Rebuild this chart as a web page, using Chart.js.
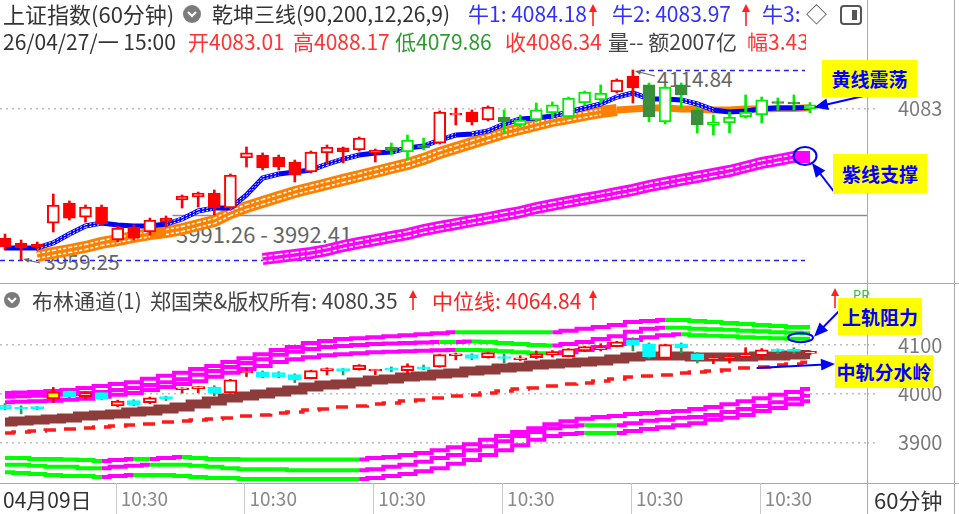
<!DOCTYPE html>
<html>
<head>
<meta charset="utf-8">
<title>上证指数(60分钟)</title>
<script src="https://cdn.jsdelivr.net/npm/chart.js@4.4.1/dist/chart.umd.min.js"></script>
<style>
  html, body { margin: 0; padding: 0; background: #fff; }
  #wrap { position: relative; width: 959px; height: 514px; overflow: hidden; background: #fff;
          font-family: "Noto Sans CJK SC", "Noto Sans", sans-serif; }
  canvas { position: absolute; left: 0; z-index: 1; }
  #cMain { top: 0; }
  #cBoll { top: 284px; }
  .t { position: absolute; white-space: nowrap; line-height: 1; transform: translateY(-50%); font-size: 21px; z-index: 2; }
  .under { z-index: 0; }
  .tag { position: absolute; z-index: 3; background: #ffff00; color: #0000ff; font-weight: bold; font-size: 19px;
         display: flex; align-items: center; justify-content: center; }
  #icons { position: absolute; left: 0; top: 0; z-index: 3; }
</style>
</head>
<body>
<div id="wrap">
  <canvas id="cMain" width="959" height="284"></canvas>
  <canvas id="cBoll" width="959" height="230"></canvas>
  <svg id="icons" width="959" height="514">
    <circle cx="192" cy="14" r="9" fill="#7b7b7b"/>
    <polyline points="188,12 192,16 196,12" fill="none" stroke="#fff" stroke-width="2"/>
    <circle cx="12" cy="300" r="8" fill="#7b7b7b"/>
    <polyline points="8,298 12,302 16,298" fill="none" stroke="#fff" stroke-width="2"/>
    <rect x="841" y="6" width="20" height="18" rx="3" fill="none" stroke="#555" stroke-width="2"/>
    <rect x="852" y="10" width="5" height="10" fill="#555"/>
  </svg>
</div>
<script>
// ---------- 数据 ----------
const firstDate = '04月09日';
const xTickIndex = [7, 15, 23, 31, 39, 47];
const xTickText = ['10:30', '10:30', '10:30', '10:30', '10:30', '10:30'];
const yTicksMain = [4083];
const yTicksBoll = [3900, 4000, 4100];

// K线 (60分钟)
const openP = [3977.2,3973.2,3972.3,3989.5,4005.9,3994.4,4002.6,3975.6,3986.3,3982.2,3993.6,4008.4,4010.8,4014.1,4001.8,4042.8,4045.2,4043.6,4039.5,4031.3,4046.9,4051.0,4049.3,4046.9,4051.8,4047.7,4053.4,4055.0,4078.0,4080.4,4073.9,4076.3,4069.8,4073.9,4079.6,4076.3,4087.8,4090.3,4096.8,4109.9,4102.6,4072.3,4102.6,4082.1,4069.8,4071.4,4076.3,4078.0,4088.6,4088.6,4083.01];
const highP = [3980.5,3975.6,3974.0,4013.3,4007.6,4004.3,4004.3,3987.1,3987.9,3993.6,3995.3,4012.5,4014.9,4016.6,4029.7,4051.8,4046.9,4045.2,4041.1,4048.5,4053.4,4051.8,4060.0,4050.1,4055.0,4061.6,4059.1,4081.3,4083.7,4082.1,4085.4,4082.1,4078.0,4087.8,4088.6,4092.7,4097.6,4102.6,4107.5,4114.84,4104.2,4101.7,4104.2,4084.5,4078.0,4080.4,4094.4,4092.7,4091.9,4094.4,4088.17];
const lowP = [3967.4,3959.25,3968.2,3982.2,3992.0,3990.3,3987.9,3974.0,3975.6,3979.7,3986.3,4001.8,4002.6,3996.1,4001.0,4035.4,4033.0,4033.0,4023.1,4030.5,4038.7,4038.7,4048.5,4039.5,4045.2,4041.1,4049.3,4054.2,4069.8,4069.8,4073.1,4063.2,4068.2,4072.3,4075.5,4075.5,4086.2,4087.8,4096.0,4087.8,4072.3,4070.6,4083.7,4063.2,4061.6,4063.2,4075.5,4071.4,4082.1,4082.1,4079.86];
const closeP = [3969.9,3969.1,3969.9,4004.3,3993.6,4002.6,3988.7,3985.4,3977.2,3992.0,3990.3,4011.6,4014.1,4001.8,4028.8,4046.9,4034.6,4035.4,4028.8,4047.7,4051.8,4047.7,4059.1,4049.3,4048.5,4057.5,4051.0,4080.4,4079.6,4072.3,4084.5,4072.3,4073.9,4082.1,4086.2,4091.9,4096.8,4096.0,4106.6,4100.1,4076.3,4100.9,4094.4,4069.8,4072.3,4076.3,4080.4,4090.3,4087.4,4087.0,4086.34];
// 乾坤三线 着色状态 (R 红 / G 绿)
const trendMain = 'RRRRRRRRRRRRRRRRRRRRRRRRGGGRRRRGGGGGGGRRGGGGGGGGGGG'.split('');

// 乾坤三线
const blueLine = [3969.1,3969.1,3969.1,3973.2,3980.5,3987.1,3989.5,3987.9,3987.1,3987.1,3988.7,3992.8,3999.4,4001.8,4001.8,4012.5,4026.4,4029.7,4031.3,4032.9,4037.8,4041.9,4045.2,4046.9,4047.7,4050.9,4052.6,4057.5,4061.6,4062.4,4064.9,4070.6,4074.7,4075.5,4077.2,4080.4,4083.7,4087.0,4092.7,4096.0,4091.1,4091.1,4090.3,4087.0,4082.1,4080.4,4081.3,4082.9,4083.7,4083.7,4084.18];
const orangeLine = [null,null,3962.5,3965.0,3967.4,3969.9,3973.2,3975.6,3978.1,3980.5,3982.2,3984.6,3987.9,3991.2,3997.7,4002.6,4006.8,4010.8,4014.9,4018.2,4021.5,4024.8,4028.0,4031.3,4034.6,4037.8,4041.9,4046.9,4050.9,4055.1,4059.1,4063.2,4066.5,4069.8,4073.1,4075.5,4078.0,4080.4,4082.1,4082.9,4083.7,4083.7,4082.9,4082.9,4082.1,4082.1,4082.9,4082.9,4083.3,4083.3,4083.97];
const purpleLine = [null,null,null,null,null,null,null,null,null,null,null,null,null,null,null,null,3960.1,3961.7,3963.3,3965.0,3967.4,3970.7,3973.2,3975.6,3978.1,3980.5,3983.8,3986.3,3988.7,3991.2,3993.6,3996.1,3998.5,4001.8,4004.3,4006.8,4009.2,4011.6,4014.1,4016.6,4019.8,4022.3,4024.8,4027.2,4029.7,4032.1,4035.4,4038.7,4041.1,4043.6,4043.6];
const rangeLevel = 3995.7;
const rangeFrom = 10.4;
const rangeText = '3991.26 - 3992.41';

// 布林通道
const upper1 = [4002,4003,4004,4006,4008,4012,4016,4020,4024,4031,4037,4043,4051,4057,4065,4073,4081,4090,4096,4104,4108,4112,4114,4116,4118,4120,4122,4124,4126,4126,4126,4126,4126,4126,4126,4129,4133,4137,4141,4147,4149,4151,4151,4149,4147,4145,4143,4141,4139,4137,4137];
const upper2 = [3994,3995,3996,3998,4000,4002,4004,4008,4012,4018,4024,4030,4039,4047,4055,4063,4071,4080,4086,4092,4096,4098,4100,4102,4103,4104,4105,4106,4106,4107,4106,4104,4102,4100,4099,4102,4106,4112,4118,4127,4133,4135,4135,4133,4132,4131,4129,4128,4126,4125,4124];
const upper3 = [3983,3984,3985,3986,3988,3990,3994,3998,4002,4008,4014,4020,4026,4035,4043,4051,4057,4065,4071,4075,4079,4081,4083,4085,4086,4087,4088,4089,4090,4090,4089,4087,4085,4083,4083,4085,4090,4096,4102,4110,4116,4120,4122,4120,4119,4118,4116,4115,4114,4113,4113];
const lower1 = [3869,3869,3867,3867,3866,3865,3863,3865,3867,3867,3869,3871,3869,3867,3867,3866,3866,3866,3866,3866,3866,3866,3866,3869,3871,3875,3879,3885,3891,3897,3906,3914,3922,3930,3938,3944,3949,3953,3955,3959,3961,3963,3965,3969,3973,3979,3985,3991,3998,4004,4010];
const lower2 = [3855,3855,3853,3851,3851,3848,3848,3851,3853,3855,3855,3855,3853,3851,3848,3846,3846,3846,3844,3844,3844,3844,3844,3846,3851,3855,3861,3869,3875,3885,3893,3903,3914,3922,3930,3934,3936,3936,3936,3940,3945,3947,3951,3953,3957,3963,3969,3975,3983,3990,3996];
const lower3 = [3840,3838,3836,3834,3832,3832,3830,3832,3834,3834,3834,3832,3830,3828,3828,3826,3826,3826,3826,3826,3826,3826,3826,3828,3832,3836,3842,3848,3857,3865,3875,3885,3895,3906,3914,3918,3920,3920,3920,3924,3928,3932,3936,3940,3947,3951,3957,3965,3971,3979,3985];
const brownLine = [3942.5,3944.6,3946.6,3948.7,3950.7,3954.8,3956.9,3958.9,3963.0,3965.0,3969.1,3973.2,3979.3,3985.5,3991.6,3995.7,3999.8,4003.9,4008.0,4014.1,4018.2,4020.2,4024.3,4028.4,4030.5,4034.6,4036.6,4040.7,4042.7,4046.8,4048.9,4053.0,4055.0,4059.1,4061.1,4063.2,4065.2,4067.3,4071.4,4075.5,4077.5,4077.5,4077.5,4075.5,4075.5,4075.5,4075.5,4077.5,4077.5,4079.6,4080.35];
const midLine = [3920.0,3922.1,3924.1,3926.2,3928.2,3930.3,3932.3,3934.4,3936.4,3938.4,3942.5,3944.6,3946.6,3948.7,3950.7,3954.8,3956.9,3960.9,3963.0,3967.1,3969.1,3973.2,3975.3,3979.3,3981.4,3985.5,3987.5,3991.6,3995.7,3997.8,4001.8,4005.9,4010.0,4012.1,4016.2,4020.2,4022.3,4026.4,4030.5,4034.6,4036.6,4038.7,4042.7,4044.8,4046.8,4048.9,4053.0,4055.0,4059.1,4061.1,4064.84];
const bollMarkBar = 3;

// ---------- 样式 ----------
const N = closeP.length;
const RED = '#ff0000', LIME = '#00ee00', DKGREEN = '#3a8f3a', BLUE = '#0000ff';
const ORANGE = '#ff8000', PURPLE = '#ff00ff', CYAN = '#00ffff', BROWN = '#8e3b3b';
const X_MIN = -0.31, X_MAX = 53.54;

Chart.defaults.font.family = "'Noto Sans CJK SC', 'Noto Sans', sans-serif";

const wrap = document.getElementById('wrap');
function addText(txt, left, cy, color, opts) {
  const d = document.createElement('div');
  d.className = 't' + (opts && opts.under ? ' under' : '');
  d.textContent = txt;
  d.style.left = left + 'px';
  d.style.top = cy + 'px';
  d.style.color = color;
  if (opts && opts.size) d.style.fontSize = opts.size + 'px';
  if (opts && opts.clip) { d.style.width = opts.clip + 'px'; d.style.overflow = 'hidden'; }
  wrap.appendChild(d);
}
function addTag(txt, left, top, w, h) {
  const d = document.createElement('div');
  d.className = 'tag';
  d.textContent = txt;
  Object.assign(d.style, { left: left + 'px', top: top + 'px', width: w + 'px', height: h + 'px' });
  wrap.appendChild(d);
}
function upArrow(x, top, h) {
  const svg = document.getElementById('icons');
  svg.insertAdjacentHTML('beforeend',
    `<line x1="${x}" y1="${top + 4}" x2="${x}" y2="${top + h}" stroke="#ff2020" stroke-width="1.6"/>` +
    `<polygon points="${x - 4},${top + 8} ${x},${top} ${x + 4},${top + 8}" fill="#ff2020"/>`);
}

const last = N - 1;
const f2 = v => v.toFixed(2);

// 表头
addText('上证指数(60分钟)', 3, 13, '#333', { size: 22 });
addText('乾坤三线(90,200,12,26,9)', 212, 13, '#333');
addText('牛1: ' + f2(blueLine[last]), 468, 13, '#3030ff');
upArrow(593, 4, 22);
addText('牛2: ' + f2(orangeLine[last]), 612, 13, '#3030ff');
upArrow(746, 4, 22);
addText('牛3:', 762, 13, '#3030ff');
addText('◇', 806, 13, '#555');
addText('26/04/27/一 15:00', 3, 41, '#333');
addText('开' + f2(openP[last]), 188, 41, '#ff3333');
addText('高' + f2(highP[last]), 293, 41, '#ff3333');
addText('低' + f2(lowP[last]), 395, 41, '#2e9b2e');
addText('收' + f2(closeP[last]), 505, 41, '#ff3333');
addText('量-- 额2007亿', 608, 41, '#444');
addText('幅3.43', 747, 41, '#ff3333', { clip: 59 });

addText('布林通道(1)', 32, 300, '#444');
addText('郑国荣&版权所有: ' + f2(brownLine[last]), 150, 300, '#444');
upArrow(413, 290, 20);
addText('中位线: ' + f2(midLine[last]), 432, 300, '#ff2020');
upArrow(593, 290, 20);
upArrow(835, 288, 20);
addText('PR', 853, 294, '#30c030', { size: 13 });
addText('60分钟', 874, 499, '#333', { size: 22 });

// 图中标注文字 (在画布之下)
addText(f2(Math.max(...highP)), 657, 78, '#666', { under: true });
addText(f2(Math.min(...lowP)), 44, 261, '#666', { under: true });
addText(rangeText, 176, 233, '#666', { under: true, size: 22 });

addTag('黄线震荡', 822, 60, 95, 37);
addTag('紫线支撑', 833, 154, 94, 39);
addTag('上轨阻力', 838, 298, 84, 37);
addTag('中轨分水岭', 835, 355, 98, 33);

// ---------- 辅助 ----------
const idx = closeP.map((_, i) => i);
const isUp = i => closeP[i] >= openP[i];
const bodies = idx.map(i => ({ x: i, y: [Math.min(openP[i], closeP[i]), Math.max(openP[i], closeP[i])] }));
const wicks = idx.map(i => ({ x: i, y: [lowP[i], highP[i]] }));
const lineData = arr => arr.map((v, i) => ({ x: i, y: v })).filter(p => p.y !== null);
const slopeColour = src => c => src[c.p1DataIndex] > src[c.p0DataIndex] ? PURPLE : '#00ff00';

function hline(ctx, x1, x2, y) { ctx.beginPath(); ctx.moveTo(x1, y); ctx.lineTo(x2, y); ctx.stroke(); }
function vline(ctx, x, y1, y2) { ctx.beginPath(); ctx.moveTo(x, y1); ctx.lineTo(x, y2); ctx.stroke(); }
function arrow(ctx, x1, y1, x2, y2, color, w, head) {
  const a = Math.atan2(y2 - y1, x2 - x1), c = Math.cos(a), s = Math.sin(a);
  ctx.strokeStyle = color; ctx.fillStyle = color; ctx.lineWidth = w; ctx.setLineDash([]);
  ctx.beginPath(); ctx.moveTo(x1, y1); ctx.lineTo(x2 - c * head * 0.7, y2 - s * head * 0.7); ctx.stroke();
  ctx.beginPath(); ctx.moveTo(x2, y2);
  ctx.lineTo(x2 - head * c + head * 0.42 * s, y2 - head * s - head * 0.42 * c);
  ctx.lineTo(x2 - head * c - head * 0.42 * s, y2 - head * s + head * 0.42 * c);
  ctx.closePath(); ctx.fill();
}
function ellipse(ctx, cx, cy, rx, ry) {
  ctx.strokeStyle = BLUE; ctx.lineWidth = 2; ctx.setLineDash([]);
  ctx.beginPath(); ctx.ellipse(cx, cy, rx, ry, 0, 0, Math.PI * 2); ctx.stroke();
}
// 坐标轴不额外占用上下左右的空白
const noPad = s => { s.paddingTop = 0; s.paddingBottom = 0; s.paddingLeft = 0; s.paddingRight = 0; };

// 三线叠画: 在粗线里面画白色虚线
const innerLines = {
  id: 'innerLines',
  afterDatasetDraw(chart, args) {
    const ds = chart.data.datasets[args.index];
    if (!ds.inner) return;
    const pts = args.meta.data, ctx = chart.ctx;
    ctx.save();
    ctx.strokeStyle = '#fff';
    ctx.lineWidth = ds.inner.width;
    ctx.setLineDash(ds.inner.dash);
    ds.inner.offsets.forEach(off => {
      for (let i = 1; i < pts.length; i++) {
        const a = pts[i - 1], b = pts[i];
        if (Math.abs(b.y - a.y) < ds.inner.minSlope) continue;
        ctx.beginPath(); ctx.moveTo(a.x, a.y + off); ctx.lineTo(b.x, b.y + off); ctx.stroke();
      }
    });
    ctx.restore();
  }
};

const xScale = extra => Object.assign({
  type: 'linear', min: X_MIN, max: X_MAX, offset: false,
  grid: { display: false, drawTicks: false, offset: false }, border: { display: false }
}, extra);

const yScale = (min, max, ticks) => ({
  position: 'right', min, max,
  afterFit: s => { s.width = 92; noPad(s); },
  afterBuildTicks: s => { s.ticks = ticks.map(v => ({ value: v })); },
  grid: { color: '#bdbdbd', lineWidth: 1.5, tickLength: 10, tickColor: '#bdbdbd', tickBorderDash: [2, 4] },
  border: { display: false, dash: [2, 4] },
  ticks: { color: '#7a7a7a', font: { size: 20 }, padding: 21, callback: v => String(v) }
});

// ---------- 主图 ----------
const mainOverlay = {
  id: 'mainOverlay',
  beforeDatasetsDraw(chart) {
    const { ctx, chartArea: a, scales: { x, y } } = chart;
    const hiIdx = highP.indexOf(Math.max(...highP));
    const loIdx = lowP.indexOf(Math.min(...lowP));
    const xEnd = x.getPixelForValue(last) - 5;
    ctx.save();
    ctx.strokeStyle = '#2323ff'; ctx.lineWidth = 1.5; ctx.setLineDash([5, 4]);
    hline(ctx, x.getPixelForValue(hiIdx) + 7, xEnd, Math.round(y.getPixelForValue(highP[hiIdx])) + 0.5);
    hline(ctx, a.left, xEnd, Math.round(y.getPixelForValue(lowP[loIdx])) + 0.5);
    ctx.setLineDash([]);
    ctx.strokeStyle = '#8c8c8c'; ctx.lineWidth = 1.5;
    hline(ctx, x.getPixelForValue(rangeFrom), a.right, Math.round(y.getPixelForValue(rangeLevel)) + 0.5);
    ctx.restore();
  },
  afterDraw(chart) {
    const { ctx, chartArea: a, scales: { x, y } } = chart;
    const hiIdx = highP.indexOf(Math.max(...highP));
    const loIdx = lowP.indexOf(Math.min(...lowP));
    ctx.save();
    arrow(ctx, x.getPixelForValue(hiIdx) + 22, y.getPixelForValue(highP[hiIdx]) + 6,
      x.getPixelForValue(hiIdx) + 2, y.getPixelForValue(highP[hiIdx]) + 1, '#666', 1.2, 6);
    arrow(ctx, 40, y.getPixelForValue(lowP[loIdx]) + 3,
      x.getPixelForValue(loIdx) + 2, y.getPixelForValue(lowP[loIdx]) - 1, '#666', 1.2, 6);
    // 黄线震荡
    arrow(ctx, a.right + 1, 95, x.getPixelForValue(last) + 4, y.getPixelForValue(blueLine[last]), BLUE, 2, 14);
    // 紫线支撑
    const px = x.getPixelForValue(last), py = y.getPixelForValue(purpleLine[last]);
    ellipse(ctx, px - 5, py - 1, 11.5, 9);
    arrow(ctx, 835, 193, px + 2, py + 6, BLUE, 2, 14);
    // 边框
    ctx.strokeStyle = '#a8a8a8'; ctx.lineWidth = 1;
    vline(ctx, a.right + 0.5, 0, chart.height);
    vline(ctx, 954.5, 0, chart.height);
    hline(ctx, 0, chart.width, chart.height - 0.5);
    ctx.restore();
  }
};

new Chart(document.getElementById('cMain'), {
  type: 'bar',
  data: {
    datasets: [
      {
        type: 'bar', data: bodies, order: 0, grouped: false, barThickness: 12, minBarLength: 2,
        borderWidth: 2, borderSkipped: false,
        backgroundColor: c => isUp(c.dataIndex) ? '#ffffff' : (trendMain[c.dataIndex] === 'R' ? RED : DKGREEN),
        borderColor: c => trendMain[c.dataIndex] === 'R' ? RED : (isUp(c.dataIndex) ? LIME : DKGREEN)
      },
      {
        type: 'bar', data: wicks, order: 1, grouped: false, barThickness: 2, borderWidth: 0,
        backgroundColor: c => trendMain[c.dataIndex] === 'R' ? RED : LIME
      },
      {
        type: 'line', data: lineData(blueLine), order: 2, borderColor: BLUE, borderWidth: 5,
        pointRadius: 0, inner: { offsets: [-1.3, 1.3], width: 1, dash: [2, 2], minSlope: 2.5 }
      },
      {
        type: 'line', data: lineData(orangeLine), order: 3, borderColor: ORANGE, borderWidth: 12,
        pointRadius: 0, segment: { borderWidth: c => Math.abs(c.p1.y - c.p0.y) > 2 ? 12 : 7 },
        inner: { offsets: [-2.5, 2.5], width: 1.5, dash: [3, 2], minSlope: 2.5 }
      },
      {
        type: 'line', data: lineData(purpleLine), order: 4, borderColor: PURPLE, borderWidth: 12,
        pointRadius: 0, inner: { offsets: [-2.5, 2.5], width: 1.5, dash: [4, 2], minSlope: 1.5 }
      }
    ]
  },
  options: {
    responsive: false, animation: false, events: [],
    layout: { padding: { top: 44, left: 0, right: 0, bottom: 0 } },
    plugins: { legend: { display: false }, tooltip: { enabled: false } },
    scales: {
      x: xScale({ display: false }),
      y: yScale(3939.6, 4136.1, yTicksMain)
    }
  },
  plugins: [innerLines, mainOverlay]
});

// ---------- 布林通道 ----------
const bollOverlay = {
  id: 'bollOverlay',
  afterDraw(chart) {
    const { ctx, chartArea: a, scales: { x, y } } = chart;
    ctx.save();
    const px = x.getPixelForValue(last), py = y.getPixelForValue(upper3[last]);
    ellipse(ctx, px - 9.5, py - 1, 12.5, 4.5);
    arrow(ctx, 843, 23, px + 4, py - 2, BLUE, 2, 14);
    const mx = x.getPixelForValue(46) + 11, my = y.getPixelForValue(midLine[46]);
    arrow(ctx, mx, my, 835, my - 4, BLUE, 2, 14);
    // 边框与时间分隔线
    ctx.strokeStyle = '#a8a8a8'; ctx.lineWidth = 1;
    vline(ctx, a.right + 0.5, 0, chart.height);
    vline(ctx, 954.5, 0, chart.height);
    hline(ctx, 0, chart.width, a.bottom + 0.5);
    ctx.strokeStyle = '#c8c8c8';
    x.ticks.forEach((t, i) => {
      if (i === 0) return;
      vline(ctx, Math.round(x.getPixelForValue(t.value)) - 1.5, a.bottom, chart.height);
    });
    ctx.restore();
  }
};

const bandSet = (src, order) => ({
  type: 'line', data: lineData(src), order, borderWidth: 4, pointRadius: 0, stepped: 'middle',
  borderColor: PURPLE, segment: { borderColor: slopeColour(src) }
});

new Chart(document.getElementById('cBoll'), {
  type: 'bar',
  data: {
    datasets: [
      {
        type: 'bar', data: bodies, order: 0, grouped: false, barThickness: 13, minBarLength: 2,
        borderWidth: 2, borderSkipped: false,
        backgroundColor: c => c.dataIndex === bollMarkBar ? '#ffff00' : (isUp(c.dataIndex) ? '#ffffff' : CYAN),
        borderColor: c => (c.dataIndex === bollMarkBar || isUp(c.dataIndex)) ? RED : CYAN
      },
      {
        type: 'bar', data: wicks, order: 1, grouped: false, barThickness: 2, borderWidth: 0,
        backgroundColor: c => isUp(c.dataIndex) ? RED : '#2e9c5e'
      },
      {
        type: 'line', data: lineData(brownLine), order: 2, borderColor: BROWN, borderWidth: 9,
        pointRadius: 0, stepped: 'middle'
      },
      {
        type: 'line', data: lineData(midLine), order: 3, borderColor: '#ff1a1a', borderWidth: 3.5,
        borderDash: [12, 9], pointRadius: 0, stepped: 'middle'
      },
      bandSet(upper1, 4), bandSet(upper2, 5), bandSet(upper3, 6),
      bandSet(lower1, 7), bandSet(lower2, 8), bandSet(lower3, 9)
    ]
  },
  options: {
    responsive: false, animation: false, events: [],
    layout: { padding: 0 },
    plugins: { legend: { display: false }, tooltip: { enabled: false } },
    scales: {
      x: xScale({
        display: true,
        afterFit: s => { s.height = 31; noPad(s); },
        afterBuildTicks: s => { s.ticks = [{ value: X_MIN }].concat(xTickIndex.map(v => ({ value: v }))); },
        ticks: {
          autoSkip: false, maxRotation: 0, align: 'start', labelOffset: 3, padding: 4,
          font: c => ({ size: c.index === 0 ? 21 : 19 }),
          color: c => c.index === 0 ? '#333' : '#8a8a8a',
          callback: (v, i) => i === 0 ? firstDate : xTickText[i - 1]
        }
      }),
      y: yScale(3817.8, 4224.7, yTicksBoll)
    }
  },
  plugins: [bollOverlay]
});
</script>
</body>
</html>
